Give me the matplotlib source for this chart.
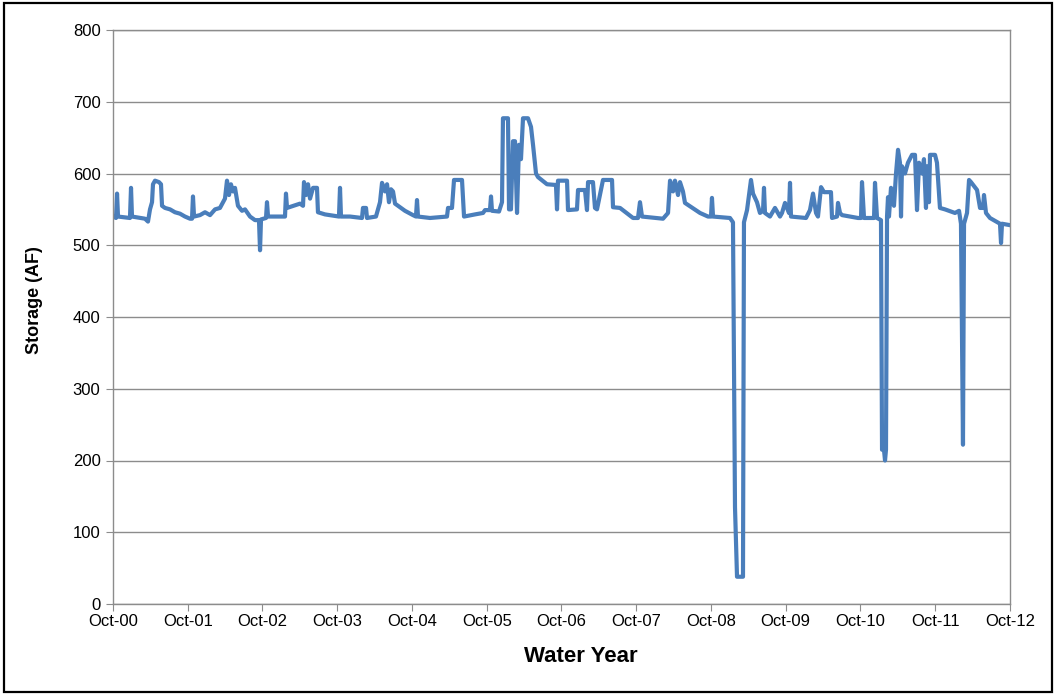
import pandas as pd
import matplotlib
matplotlib.use("Agg")
import matplotlib.pyplot as plt
import matplotlib.dates as mdates
from matplotlib.patches import Rectangle

# time in years since 1 Oct 2000, storage in acre-feet
t_years = [
    0.000, 0.040, 0.054, 0.067, 0.227, 0.241, 0.254, 0.428, 0.468, 0.495,
    0.522, 0.535, 0.562, 0.615, 0.642, 0.656, 0.696, 0.763, 0.829, 0.896,
    0.963, 1.030, 1.057, 1.070, 1.084, 1.164, 1.231, 1.298, 1.365, 1.431,
    1.498, 1.525, 1.552, 1.578, 1.605, 1.632, 1.672, 1.726, 1.766, 1.833,
    1.900, 1.953, 1.967, 1.980, 2.047, 2.060, 2.074, 2.234, 2.301, 2.314,
    2.328, 2.502, 2.542, 2.555, 2.582, 2.609, 2.636, 2.676, 2.729, 2.742,
    2.836, 3.023, 3.037, 3.050, 3.171, 3.331, 3.344, 3.385, 3.398, 3.518,
    3.572, 3.599, 3.639, 3.666, 3.692, 3.719, 3.746, 3.773, 3.906, 4.013,
    4.053, 4.067, 4.080, 4.241, 4.468, 4.482, 4.535, 4.562, 4.669, 4.696,
    4.843, 4.950, 4.977, 5.043, 5.057, 5.070, 5.164, 5.204, 5.217, 5.284,
    5.298, 5.324, 5.351, 5.378, 5.405, 5.431, 5.458, 5.485, 5.552, 5.592,
    5.619, 5.659, 5.686, 5.806, 5.926, 5.940, 5.953, 6.074, 6.087, 6.207,
    6.221, 6.314, 6.341, 6.355, 6.421, 6.448, 6.475, 6.555, 6.676, 6.689,
    6.783, 6.957, 7.023, 7.050, 7.077, 7.358, 7.425, 7.452, 7.492, 7.518,
    7.559, 7.585, 7.625, 7.652, 7.853, 7.960, 8.000, 8.013, 8.027, 8.254,
    8.294, 8.321, 8.348, 8.428, 8.441, 8.482, 8.535, 8.562, 8.615, 8.655,
    8.696, 8.709, 8.722, 8.789, 8.856, 8.923, 8.950, 8.990, 9.043, 9.057,
    9.070, 9.271, 9.324, 9.365, 9.405, 9.431, 9.472, 9.512, 9.605, 9.619,
    9.686, 9.699, 9.726, 9.753, 9.967, 10.007, 10.020, 10.047, 10.181, 10.194,
    10.221, 10.274, 10.288, 10.314, 10.328, 10.341, 10.355, 10.368, 10.381, 10.408,
    10.448, 10.475, 10.502, 10.528, 10.542, 10.555, 10.595, 10.635, 10.689, 10.729,
    10.756, 10.783, 10.823, 10.849, 10.876, 10.890, 10.916, 10.930, 10.997, 11.023,
    11.063, 11.130, 11.264, 11.318, 11.344, 11.371, 11.385, 11.425, 11.452, 11.478,
    11.559, 11.599, 11.639, 11.652, 11.679, 11.732, 11.866, 11.880, 11.893, 12.000,
]
storage = [
    540, 538, 572, 540, 538, 580, 540, 537, 533, 550,
    560, 585, 590, 588, 585, 555, 552, 550, 546, 544,
    540, 537, 537, 568, 540, 542, 546, 542, 550, 552,
    565, 590, 570, 585, 575, 580, 555, 548, 550, 540,
    535, 535, 493, 536, 538, 560, 540, 540, 540, 572,
    552, 558, 555, 588, 570, 585, 565, 580, 580, 546,
    543, 540, 580, 540, 540, 538, 552, 552, 538, 540,
    560, 587, 575, 585, 560, 578, 575, 558, 548, 542,
    540, 563, 540, 538, 540, 552, 552, 591, 591, 540,
    543, 545, 549, 549, 568, 548, 547, 560, 677, 677,
    550, 550, 645, 645, 545, 640, 620, 677, 677, 665,
    640, 600, 595, 585, 584, 550, 590, 590, 549, 550,
    577, 577, 549, 588, 588, 552, 550, 591, 591, 553,
    552, 538, 538, 560, 540, 537, 545, 590, 575, 590,
    570, 588, 575, 559, 545, 540, 540, 566, 540, 538,
    532, 135, 38, 38, 532, 549, 591, 572, 560, 545,
    548, 580, 545, 540, 552, 540, 545, 559, 545, 587,
    540, 538, 549, 572, 545, 540, 581, 574, 574, 538,
    540, 559, 545, 542, 538, 538, 588, 538, 538, 587,
    538, 535, 215, 215, 200, 215, 540, 567, 540, 580,
    555, 600, 633, 615, 540, 610, 600, 615, 626, 626,
    549, 615, 600, 620, 552, 610, 560, 626, 626, 615,
    552, 550, 545, 548, 530, 222, 530, 545, 591, 588,
    577, 552, 552, 570, 545, 538, 530, 503, 530, 528,
]
tick_years = list(range(2000, 2013))

plt.rcParams['font.family'] = ['Liberation Sans', 'DejaVu Sans']

start = pd.Timestamp("2000-10-01")
dates = [start + pd.Timedelta(days=t * 365.25) for t in t_years]
tick_dates = [pd.Timestamp(f"{y}-10-01") for y in tick_years]

fig = plt.figure(figsize=(10.58, 6.96), dpi=100)
ax = fig.add_axes([113 / 1058, 1 - 604 / 696, 897 / 1058, 574 / 696])

ax.plot(dates, storage, color="#4A7EBB", lw=3.0, solid_joinstyle="round")

ax.set_ylim(0, 800)
ax.set_yticks(range(0, 801, 100))
ax.set_xlim(tick_dates[0], tick_dates[-1])
ax.set_xticks(tick_dates)
ax.xaxis.set_major_formatter(mdates.DateFormatter("%b-%y"))

ax.grid(axis="y", color="#8C8C8C", lw=1)
ax.set_axisbelow(True)
for s in ax.spines.values():
    s.set_color("#8C8C8C")
    s.set_linewidth(1)
ax.tick_params(axis="both", direction="out", length=5, color="#8C8C8C",
               labelsize=12, labelcolor="black")
ax.tick_params(axis="y", pad=4)
ax.tick_params(axis="x", pad=2)

ax.set_xlabel("Water Year", fontsize=16, fontweight="bold")
ax.set_ylabel("Storage (AF)", fontsize=13, fontweight="bold")
ax.xaxis.set_label_coords(0.522, -0.092)
ax.yaxis.set_label_coords(-0.087, 0.53)
ax.xaxis.label.set_va("center")
ax.yaxis.label.set_va("center")

# outer chart border
fig.patches.append(Rectangle((4 / 1058, 4 / 696), 1048 / 1058, 689 / 696,
                             transform=fig.transFigure, fill=False,
                             edgecolor="black", lw=1.6))

fig.savefig("out.png", dpi=100)
